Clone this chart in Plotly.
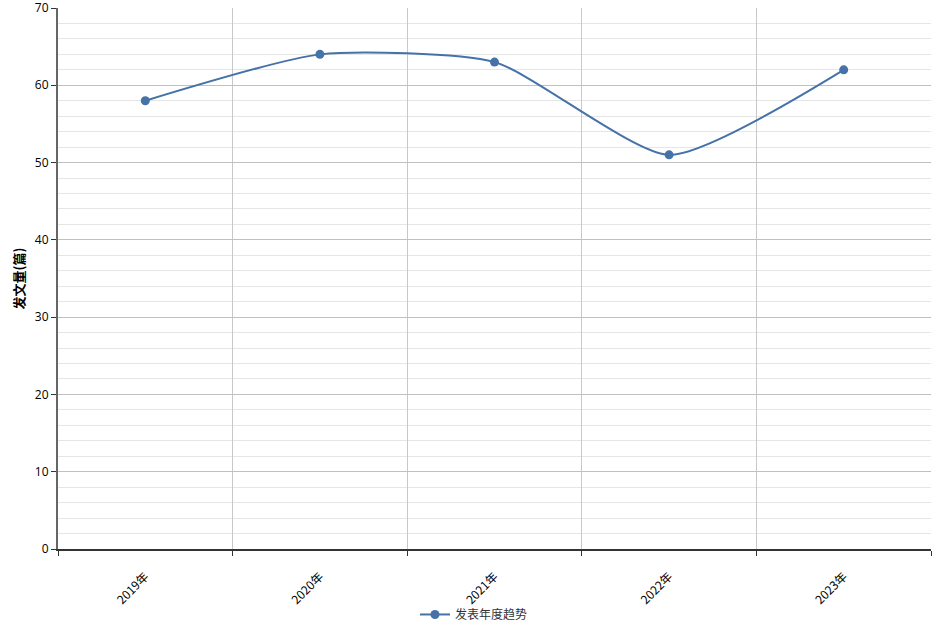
import plotly.graph_objects as go

categories = ["2019年", "2020年", "2021年", "2022年", "2023年"]
values = [58, 64, 63, 51, 62]
series_name = "发表年度趋势"
y_title = "发文量(篇)"

color = "#4572A7"
font_family = "Noto Sans CJK SC, Lucida Grande, DejaVu Sans, sans-serif"
num_font = "Open Sans, Liberation Sans, sans-serif"

fig = go.Figure()
fig.add_trace(go.Scatter(
    x=categories, y=values, name=series_name,
    mode="lines+markers",
    line=dict(color=color, width=2, shape="spline", smoothing=0.6),
    marker=dict(color=color, size=9),
    showlegend=True,
))

fig.update_layout(
    width=948, height=633,
    margin=dict(l=58, r=17, t=8, b=84, autoexpand=False),
    paper_bgcolor="white", plot_bgcolor="white",
    font=dict(family=font_family, size=12, color="#000000"),
    showlegend=True,
    legend=dict(orientation="h", x=0.4765, xanchor="center", y=-0.121, yanchor="middle",
                font=dict(size=12, color="#333333"), bgcolor="rgba(0,0,0,0)"),
    xaxis=dict(
        type="category", tickson="boundaries", automargin=False,
        showgrid=True, gridcolor="#c8c8c8", gridwidth=1,
        showline=True, linecolor="#333333", linewidth=2,
        ticks="outside", ticklen=5, tickcolor="#333333", tickwidth=1,
        tickangle=-45, tickfont=dict(size=12, color="#000000"),
        ticklabelstandoff=14,
        range=[-0.5, 4.5], zeroline=False,
    ),
    yaxis=dict(
        range=[0, 70], dtick=10, tick0=0, automargin=False,
        showgrid=True, gridcolor="#c0c0c0", gridwidth=1,
        showline=True, linecolor="#666666", linewidth=2,
        ticks="outside", ticklen=5, tickcolor="#333333", tickwidth=1,
        tickfont=dict(size=12, color="#000000", family=num_font),
        ticklabeloverflow="allow",
        zeroline=False,
        minor=dict(dtick=2, showgrid=True, gridcolor="#e6e6e6", gridwidth=1, ticks=""),
    ),
    annotations=[dict(
        text="<b>" + y_title + "</b>", xref="paper", yref="paper",
        x=(18 - 58) / 873, y=0.5, xanchor="center", yanchor="middle",
        textangle=-90, showarrow=False, font=dict(size=13, color="#000000"),
    )],
)

fig.write_html("out.html", config={"displayModeBar": False},
               post_script="document.body.style.margin='0px';document.body.style.overflow='hidden';")
